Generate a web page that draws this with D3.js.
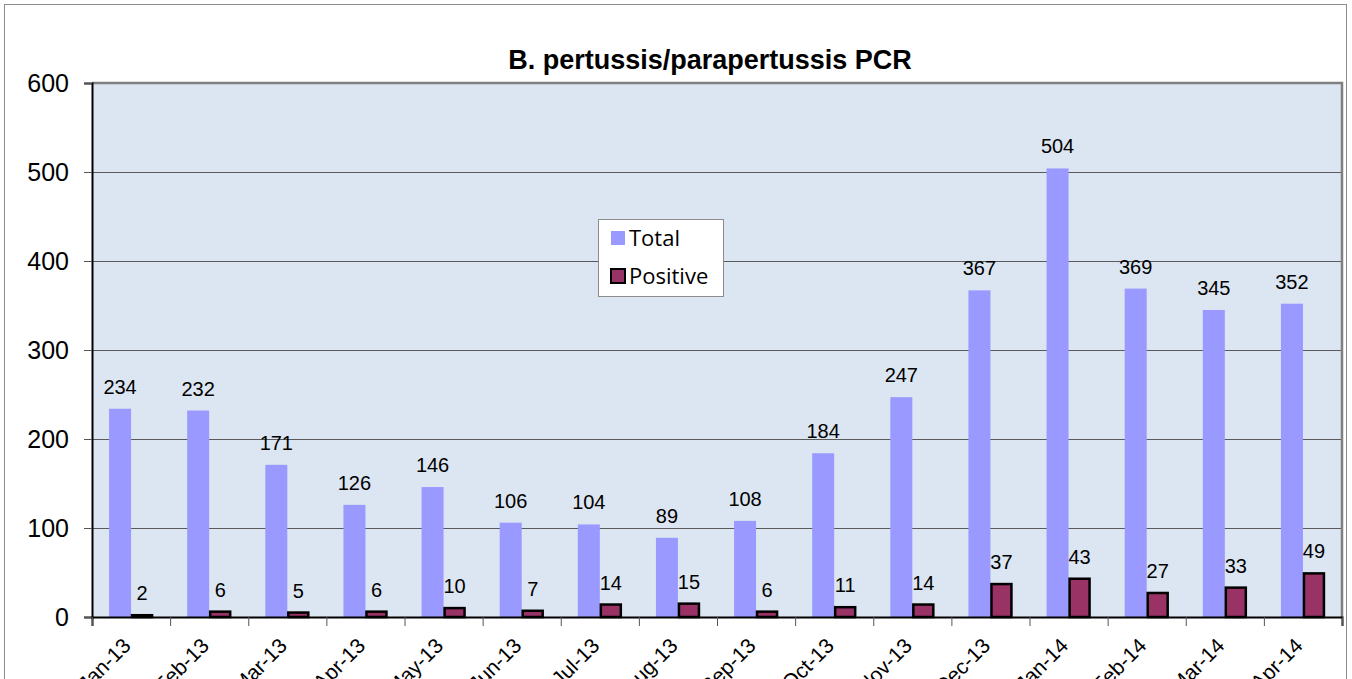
<!DOCTYPE html>
<html>
<head>
<meta charset="utf-8">
<script src="https://cdn.jsdelivr.net/npm/d3@7"></script>
<style>
  body { margin: 0; background: #fff; }
  svg { display: block; }
</style>
</head>
<body>
<svg id="chart"></svg>
<script>
// data
const months = ["Jan-13", "Feb-13", "Mar-13", "Apr-13", "May-13", "Jun-13", "Jul-13", "Aug-13",
                "Sep-13", "Oct-13", "Nov-13", "Dec-13", "Jan-14", "Feb-14", "Mar-14", "Apr-14"]
const totalValues = [234, 232, 171, 126, 146, 106, 104, 89, 108, 184, 247, 367, 504, 369, 345, 352]
const positiveValues = [2, 6, 5, 6, 10, 7, 14, 15, 6, 11, 14, 37, 43, 27, 33, 49]
const yTicks = [0, 100, 200, 300, 400, 500, 600]
const seriesNames = ["Total", "Positive"]

const width = 1352
const height = 679
const plot = {left: 92, right: 1342, top: 83, bottom: 617}

const svg = d3.select("#chart")
  .attr("width", width)
  .attr("height", height)
  .style("font-family", "Arial, 'Liberation Sans', sans-serif")

// outer chart frame
svg.append("rect")
  .attr("x", 4.5).attr("y", 4.5)
  .attr("width", 1342).attr("height", 700)
  .attr("fill", "#fff")
  .attr("stroke", "#8c8c8c")
  .attr("stroke-width", 1)

// plot background
svg.append("rect")
  .attr("x", plot.left).attr("y", plot.top)
  .attr("width", plot.right - plot.left).attr("height", plot.bottom - plot.top)
  .attr("fill", "#dce6f2")

const x = d3.scaleBand()
  .domain(months)
  .range([plot.left, plot.right])

const y = d3.scaleLinear()
  .domain([0, 600])
  .range([plot.bottom, plot.top])

// inner band for the two bars of each month
const bw = 22
const x1 = d3.scaleBand()
  .domain(seriesNames)
  .range([0, bw * 2])

const groupOffset = (x.bandwidth() - bw * 2) / 2

// gridlines
svg.append("g")
  .selectAll("line")
  .data(yTicks.filter(d => d > 0 && d < 600))
  .join("line")
  .attr("x1", plot.left).attr("x2", plot.right)
  .attr("y1", d => Math.round(y(d)) + 0.5)
  .attr("y2", d => Math.round(y(d)) + 0.5)
  .attr("stroke", "#5a5a5a")
  .attr("stroke-width", 1)

// plot border top/right
svg.append("path")
  .attr("d", `M${plot.left},${plot.top}H${plot.right}V${plot.bottom}`)
  .attr("fill", "none")
  .attr("stroke", "#808080")
  .attr("stroke-width", 2.5)

// total bars
svg.append("g")
  .selectAll("rect")
  .data(totalValues)
  .join("rect")
  .attr("x", (d, i) => x(months[i]) + groupOffset + x1("Total"))
  .attr("y", d => y(d))
  .attr("width", x1.bandwidth())
  .attr("height", d => plot.bottom - y(d))
  .attr("fill", "#9999ff")

// positive bars
svg.append("g")
  .selectAll("rect")
  .data(positiveValues)
  .join("rect")
  .attr("x", (d, i) => x(months[i]) + groupOffset + x1("Positive") + 1)
  .attr("y", d => y(d))
  .attr("width", x1.bandwidth() - 2)
  .attr("height", d => plot.bottom - y(d))
  .attr("fill", "#993366")
  .attr("stroke", "#000")
  .attr("stroke-width", 2.5)

// value labels
svg.append("g")
  .selectAll("text")
  .data(totalValues)
  .join("text")
  .attr("x", (d, i) => x(months[i]) + groupOffset + x1("Total") + x1.bandwidth() / 2)
  .attr("y", d => y(d) - 15)
  .attr("text-anchor", "middle")
  .attr("font-size", 20)
  .text(d => d)

svg.append("g")
  .selectAll("text")
  .data(positiveValues)
  .join("text")
  .attr("x", (d, i) => x(months[i]) + groupOffset + x1("Positive") + x1.bandwidth() / 2)
  .attr("y", d => y(d) - 15)
  .attr("text-anchor", "middle")
  .attr("font-size", 20)
  .text(d => d)

// axes
const yAxis = svg.append("g")
  .attr("transform", `translate(${plot.left},0)`)
  .call(d3.axisLeft(y).tickValues(yTicks).tickSize(8).tickPadding(15))
yAxis.select(".domain").attr("stroke", "#000").attr("stroke-width", 2)
yAxis.selectAll(".tick line").attr("stroke", "#555")
yAxis.selectAll("text")
  .attr("font-size", 25)
  .attr("font-family", "Arial, 'Liberation Sans', sans-serif")
  .attr("fill", "#000")

const xTickScale = d3.scaleLinear().domain([0, months.length]).range([plot.left, plot.right])
const xAxis = svg.append("g")
  .attr("transform", `translate(0,${plot.bottom})`)
  .call(d3.axisBottom(xTickScale).tickValues(d3.range(0, months.length + 1)).tickSize(9).tickFormat(""))
xAxis.select(".domain").attr("stroke", "#000").attr("stroke-width", 2)
xAxis.selectAll(".tick line").attr("stroke", "#555")

svg.append("g")
  .selectAll("text")
  .data(months)
  .join("text")
  .attr("transform", d => `translate(${x(d) + x.bandwidth() / 2 + 1},${plot.bottom + 30}) rotate(-45)`)
  .attr("text-anchor", "end")
  .attr("font-size", 21)
  .text(d => d)

// title
svg.append("text")
  .attr("x", 710)
  .attr("y", 69)
  .attr("text-anchor", "middle")
  .attr("font-size", 27)
  .attr("font-weight", "bold")
  .text("B. pertussis/parapertussis PCR")

// legend
const legend = svg.append("g").attr("transform", "translate(598,219)")
legend.append("rect")
  .attr("x", 0.5).attr("y", 0.5)
  .attr("width", 125).attr("height", 77)
  .attr("fill", "#fff")
  .attr("stroke", "#8c8c8c")

const legendColors = ["#9999ff", "#993366"]
seriesNames.forEach((name, i) => {
  const row = legend.append("g").attr("transform", `translate(0,${19 + i * 38})`)
  row.append("rect")
    .attr("x", 13).attr("y", -7)
    .attr("width", 14).attr("height", 14)
    .attr("fill", legendColors[i])
    .attr("stroke", i === 1 ? "#000" : "none")
    .attr("stroke-width", 2)
  row.append("text")
    .attr("x", 31).attr("y", 8)
    .attr("font-size", 22)
    .attr("font-family", "'Open Sans', 'Noto Sans', sans-serif")
    .text(name)
})
</script>
</body>
</html>
